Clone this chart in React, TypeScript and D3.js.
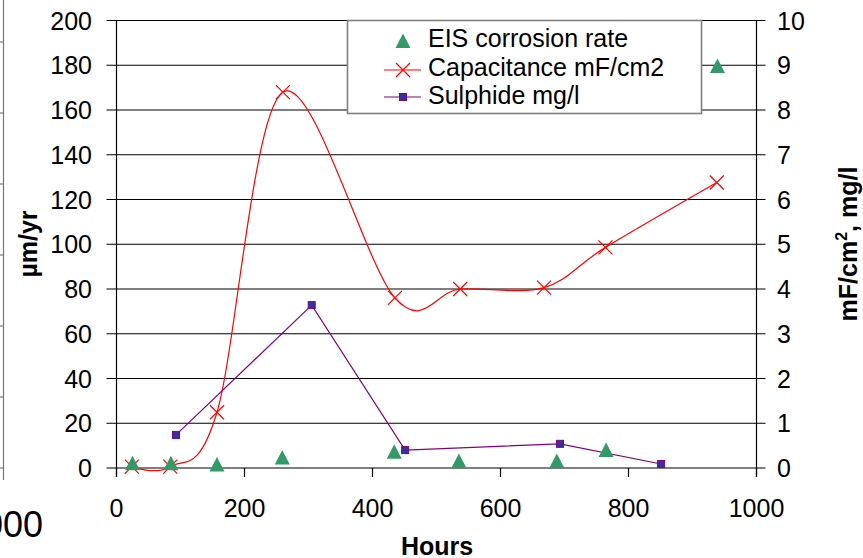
import React from "react";
import * as d3 from "d3";

const eisHours = [25, 85, 157, 259, 434, 535, 688, 765, 939];
const eisRate = [2.1, 2.1, 1.6, 4.7, 7.3, 3.1, 3.1, 8.0, 179.7];

const capHours = [24, 84, 157, 260, 435, 537, 668, 764, 938];
const capValue = [0.03, 0.03, 1.245, 8.4, 3.8, 4.0, 4.03, 4.93, 6.38];

const sulHours = [93, 305, 451, 693, 851];
const sulValue = [0.74, 3.64, 0.4, 0.54, 0.09];

const xTicks = [0, 200, 400, 600, 800, 1000];
const leftTicks = [0, 20, 40, 60, 80, 100, 120, 140, 160, 180, 200];
const rightTicks = [0, 1, 2, 3, 4, 5, 6, 7, 8, 9, 10];
const legendLabels = ["EIS corrosion rate", "Capacitance mF/cm2", "Sulphide mg/l"];
const strayTicks = [0, 1, 2, 3, 4, 5, 6];

const FONT = '"Liberation Sans", Arial, sans-serif';

export default function App() {
  const W = 863, H = 558;
  const x = d3.scaleLinear().domain([0, 1000]).range([116.5, 756.5]);
  const yL = d3.scaleLinear().domain([0, 200]).range([468, 20.5]);
  const yR = d3.scaleLinear().domain([0, 10]).range([468, 20.5]);

  const capPts: [number, number][] = capHours.map((h, i) => [x(h), yR(capValue[i])]);
  const capLine = d3.line().curve(d3.curveCardinal.tension(0))(capPts) || "";
  const sulPts: [number, number][] = sulHours.map((h, i) => [x(h), yR(sulValue[i])]);
  const sulLine = d3.line()(sulPts) || "";

  const tri = (cx: number, cy: number) =>
    `M${cx},${cy - 7.5}L${cx + 7.5},${cy + 7}L${cx - 7.5},${cy + 7}Z`;
  const cross = (cx: number, cy: number, s = 7) =>
    `M${cx - s},${cy - s}L${cx + s},${cy + s}M${cx - s},${cy + s}L${cx + s},${cy - s}`;

  const left = x(0), right = x(1000), bottom = yL(0), top = yL(200);

  return (
    <svg width={W} height={H} style={{ position: "absolute", left: 0, top: 0, background: "#fff" }} fontFamily={FONT}>
      <rect x={0} y={0} width={W} height={H} fill="#fff" />
      {/* stray neighbouring axis at left edge */}
      <line x1={3.5} x2={3.5} y1={0} y2={480} stroke="#777" strokeWidth={1.2} />
      {strayTicks.map((k) => (
        <line key={k} x1={0} x2={3.5} y1={468 - 71 * k} y2={468 - 71 * k} stroke="#777" strokeWidth={1.2} />
      ))}
      <text x={43} y={537} fontSize={36} textAnchor="end" fill="#000">1000</text>

      {/* gridlines */}
      {leftTicks.map((t) => (
        <line key={t} x1={left - 10} x2={right + 9} y1={yL(t)} y2={yL(t)} stroke="#000" strokeWidth={1.1} />
      ))}
      {/* axes */}
      <line x1={left} x2={left} y1={top} y2={bottom + 9} stroke="#000" strokeWidth={1.2} />
      <line x1={right} x2={right} y1={top} y2={bottom + 9} stroke="#000" strokeWidth={1.2} />
      {xTicks.map((t) => (
        <line key={t} x1={x(t)} x2={x(t)} y1={bottom} y2={bottom + 9} stroke="#000" strokeWidth={1.2} />
      ))}
      {/* tick labels */}
      {leftTicks.map((t) => (
        <text key={t} x={92} y={yL(t) + 9} fontSize={25} textAnchor="end" fill="#000">{t}</text>
      ))}
      {rightTicks.map((t) => (
        <text key={t} x={777} y={yR(t) + 9} fontSize={25} textAnchor="start" fill="#000">{t}</text>
      ))}
      {xTicks.map((t) => (
        <text key={t} x={x(t)} y={517} fontSize={25} textAnchor="middle" fill="#000">{t}</text>
      ))}
      {/* axis titles */}
      <text x={437} y={555} fontSize={25} fontWeight="bold" textAnchor="middle" fill="#000">Hours</text>
      <text transform={`translate(37,244) rotate(-90)`} fontSize={25} fontWeight="bold" textAnchor="middle" fill="#000">µm/yr</text>
      <text transform={`translate(857,244) rotate(-90)`} fontSize={25} fontWeight="bold" textAnchor="middle" fill="#000">
        mF/cm<tspan dy={-10} fontSize={16}>2</tspan><tspan dy={10}>, mg/l</tspan>
      </text>

      {/* series */}
      <path d={capLine} fill="none" stroke="#ff0000" strokeWidth={1.2} />
      {capPts.map(([cx, cy], i) => (
        <path key={i} d={cross(cx, cy)} stroke="#ff0000" strokeWidth={1.2} fill="none" />
      ))}
      <path d={sulLine} fill="none" stroke="#800080" strokeWidth={1.2} />
      {sulPts.map(([cx, cy], i) => (
        <rect key={i} x={cx - 3.5} y={cy - 3.5} width={7} height={7} fill="#333399" stroke="#800080" strokeWidth={1} />
      ))}
      {eisHours.map((h, i) => (
        <path key={i} d={tri(x(h), yL(eisRate[i]))} fill="#339966" />
      ))}

      {/* legend */}
      <rect x={347.5} y={20.5} width={354} height={93} fill="#fff" stroke="#808080" strokeWidth={1.6} />
      <path d={tri(403, 41)} fill="#339966" />
      <line x1={384} x2={421} y1={70} y2={70} stroke="#ff0000" strokeWidth={1.2} />
      <path d={cross(403, 70)} stroke="#ff0000" strokeWidth={1.2} fill="none" />
      <line x1={384} x2={421} y1={97} y2={97} stroke="#800080" strokeWidth={1.2} />
      <rect x={399.5} y={93.5} width={7} height={7} fill="#333399" stroke="#800080" strokeWidth={1} />
      {legendLabels.map((l, i) => (
        <text key={l} x={428} y={[47.3, 76, 104.3][i]} fontSize={25} fill="#000">{l}</text>
      ))}
    </svg>
  );
}
